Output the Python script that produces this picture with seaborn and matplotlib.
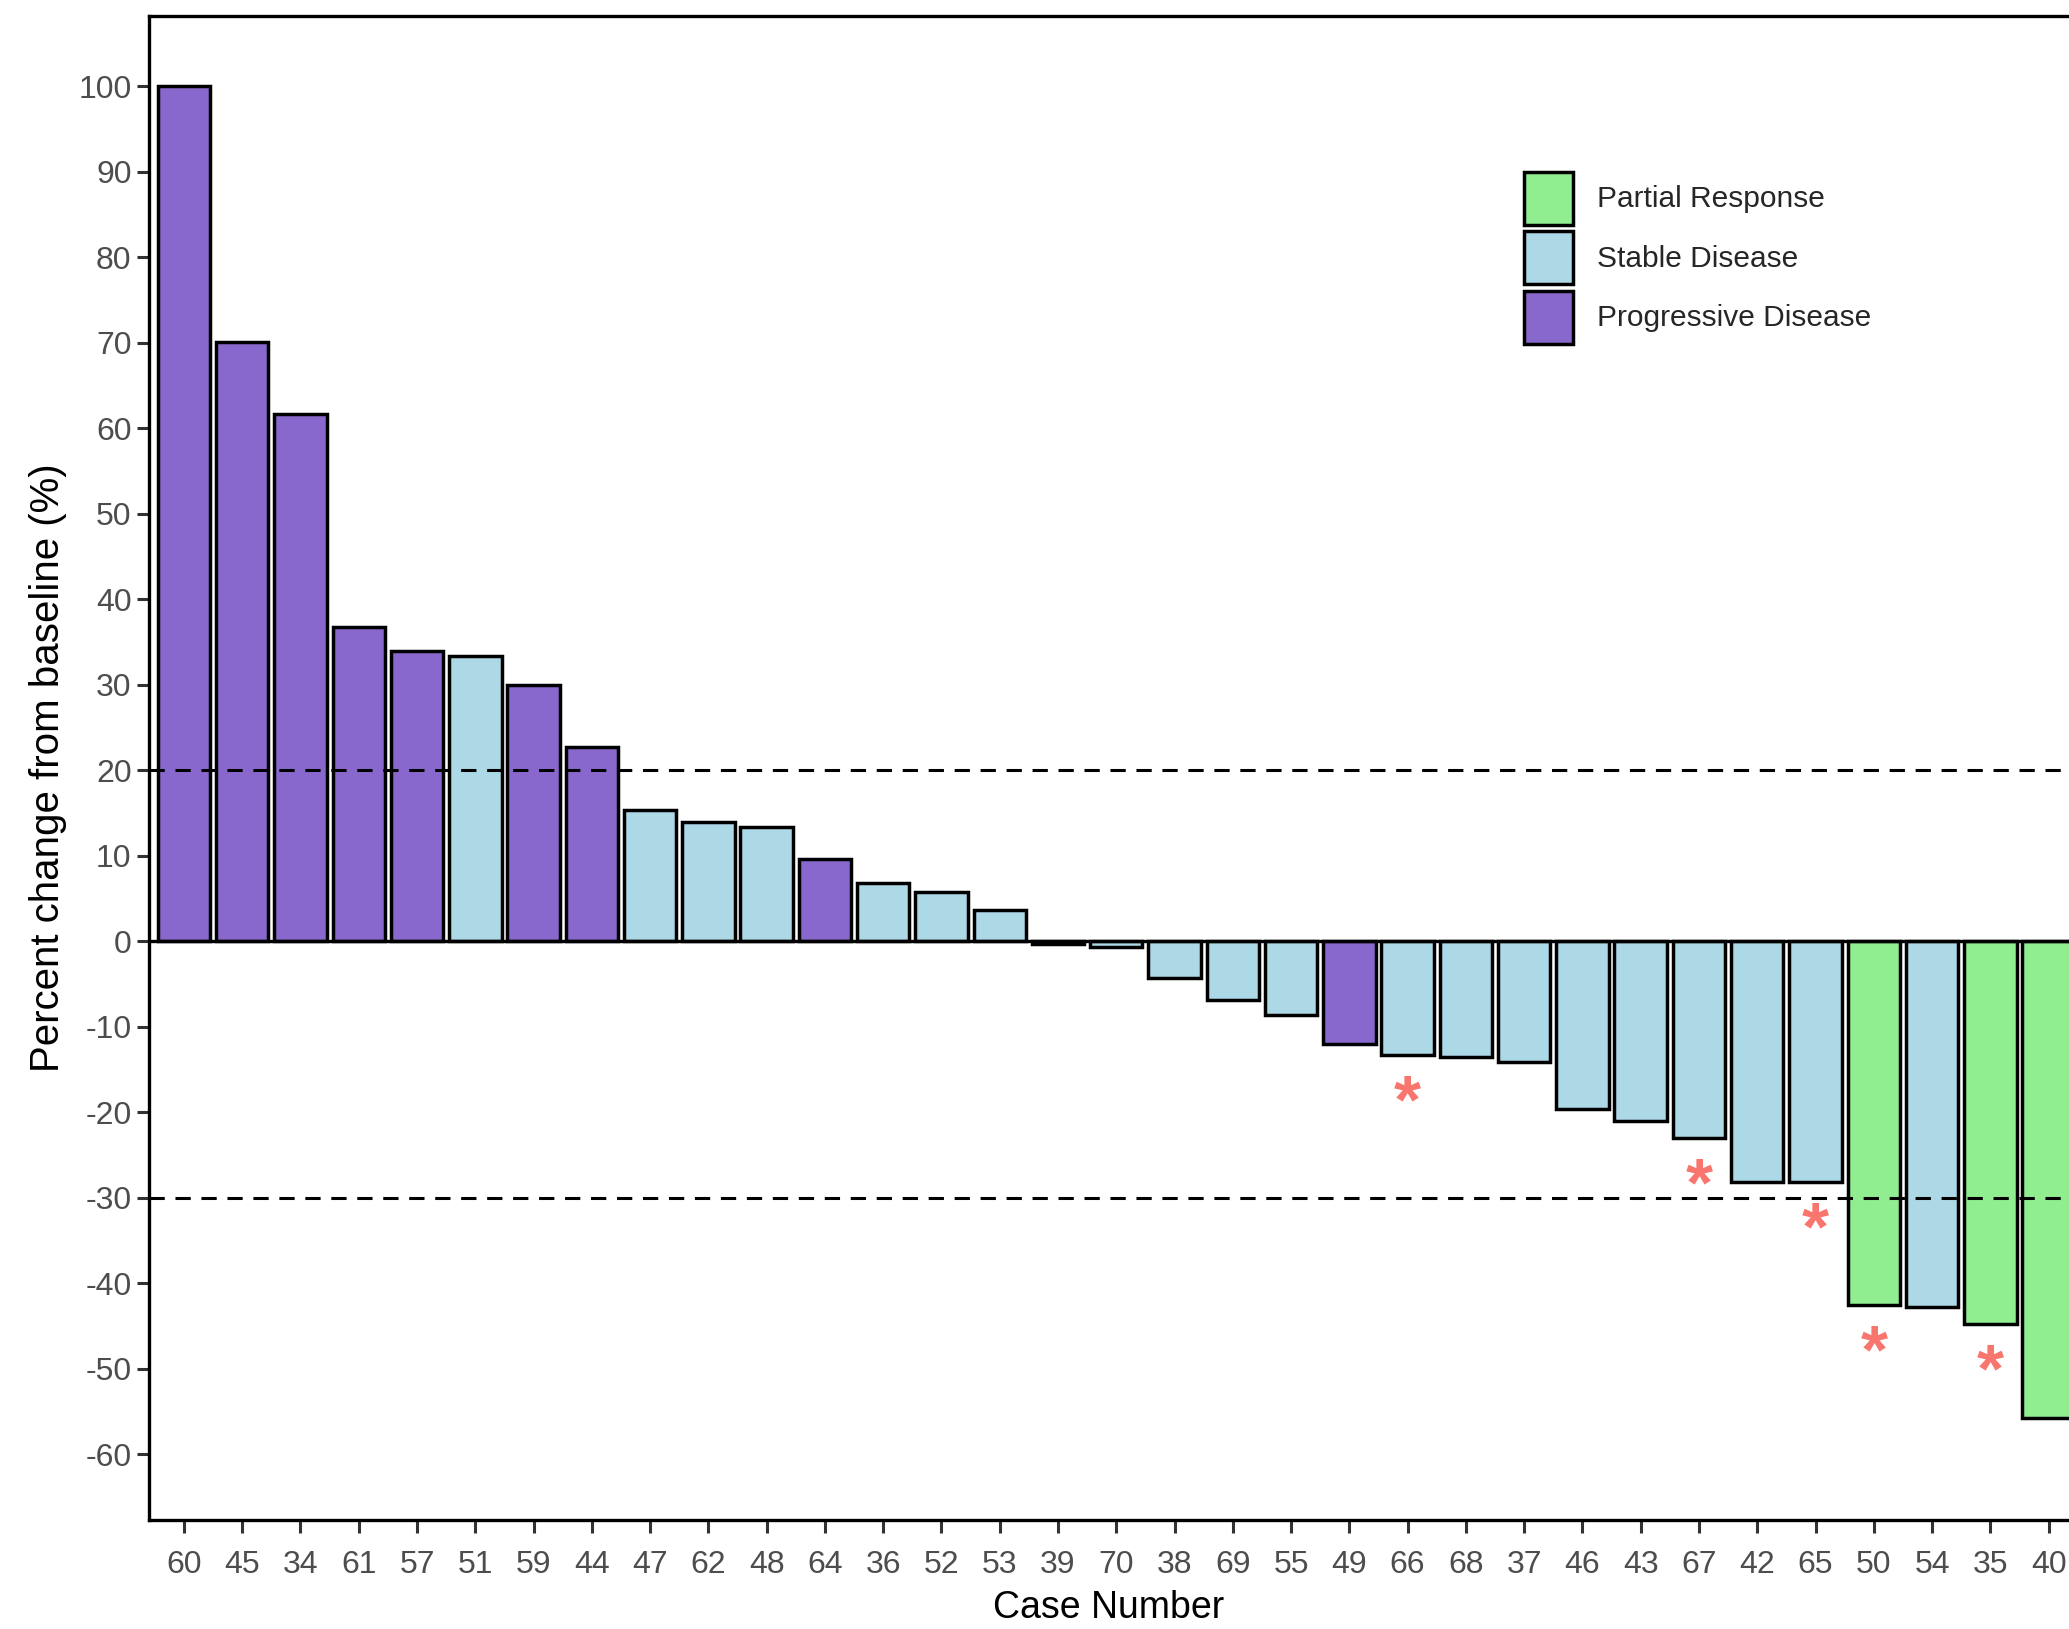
import pandas as pd
import seaborn as sns
import matplotlib.pyplot as plt
from matplotlib.patches import Patch

OUTPUT_FILE = "out.png"

CASES = ["60", "45", "34", "61", "57", "51", "59", "44", "47", "62", "48",
         "64", "36", "52", "53", "39", "70", "38", "69", "55", "49", "66",
         "68", "37", "46", "43", "67", "42", "65", "50", "54", "35", "40"]
CHANGE = [100.0, 70.1, 61.7, 36.8, 34.0, 33.4, 30.0, 22.7, 15.4, 13.9, 13.3,
          9.6, 6.8, 5.7, 3.7, -0.3, -0.7, -4.3, -6.9, -8.6, -12.0, -13.3,
          -13.5, -14.1, -19.6, -21.0, -23.0, -28.2, -28.2, -42.6, -42.8,
          -44.8, -55.8]
RESPONSE = ["PD", "PD", "PD", "PD", "PD", "SD", "PD", "PD", "SD", "SD", "SD",
            "PD", "SD", "SD", "SD", "SD", "SD", "SD", "SD", "SD", "PD", "SD",
            "SD", "SD", "SD", "SD", "SD", "SD", "SD", "PR", "SD", "PR", "PR"]
STARRED = ["66", "67", "65", "50", "35"]

LABELS = {"PR": "Partial Response", "SD": "Stable Disease",
          "PD": "Progressive Disease"}
COLOURS = {"PR": "#90EE90", "SD": "#ADD8E6", "PD": "#8968CD"}
FONT = ["Liberation Sans", "DejaVu Sans"]


def draw_waterfall(ax: plt.Axes):
    df = pd.DataFrame({"case": CASES, "change": CHANGE, "response": RESPONSE})
    sns.barplot(data=df, x="case", y="change", hue="response", order=CASES,
                palette=COLOURS, dodge=False, width=0.9, edgecolor="black",
                linewidth=2.5, saturation=1, legend=False, ax=ax)

    # reference lines
    ax.axhline(0, color="black", lw=2.4, zorder=3)
    for level in (20, -30):
        ax.axhline(level, color="black", lw=2.2, ls=(0, (5, 3.5)), zorder=3)

    # asterisks under the marked cases
    for case in STARRED:
        i = CASES.index(case)
        ax.text(i, CHANGE[i] - 5.8, "*", color="#F8766D", fontsize=50,
                fontweight="bold", ha="center", va="center", family=FONT)

    ax.set_xlim(-0.6, 32.35)
    ax.set_ylim(-67.7, 108.2)
    ax.set_yticks(range(-60, 101, 10))
    ax.set_xlabel("Case Number", fontsize=27, color="black", labelpad=7)
    ax.set_ylabel("Percent change from baseline (%)", fontsize=29,
                  color="black", labelpad=8)

    ax.spines["right"].set_visible(False)
    for side in ("left", "bottom", "top"):
        ax.spines[side].set_linewidth(2.4)
        ax.spines[side].set_color("black")
    ax.tick_params(axis="both", labelsize=23, labelcolor="#4D4D4D",
                   color="#333333", length=9, width=2.2,
                   bottom=True, left=True, direction="out")
    ax.tick_params(axis="x", pad=13)
    ax.grid(False)

    handles = [Patch(facecolor=COLOURS[k], edgecolor="black", linewidth=2.5,
                     label=LABELS[k]) for k in ("PR", "SD", "PD")]
    ax.legend(handles=handles, loc="upper left", bbox_to_anchor=(0.731, 0.902),
              bbox_transform=plt.gcf().transFigure, frameon=False,
              fontsize=21.5, handlelength=1.62, handleheight=2.35,
              labelspacing=0.22, handletextpad=0.8, borderaxespad=0)


def main():
    sns.set_theme(style="white")
    plt.rcParams["font.family"] = FONT
    plt.rcParams["axes.unicode_minus"] = False
    fig = plt.figure(figsize=(20.69, 16.29), dpi=100)
    ax = fig.add_axes([0.072, 0.067, 0.928, 0.923])
    draw_waterfall(ax)
    fig.savefig(OUTPUT_FILE, dpi=100)


if __name__ == "__main__":
    main()
